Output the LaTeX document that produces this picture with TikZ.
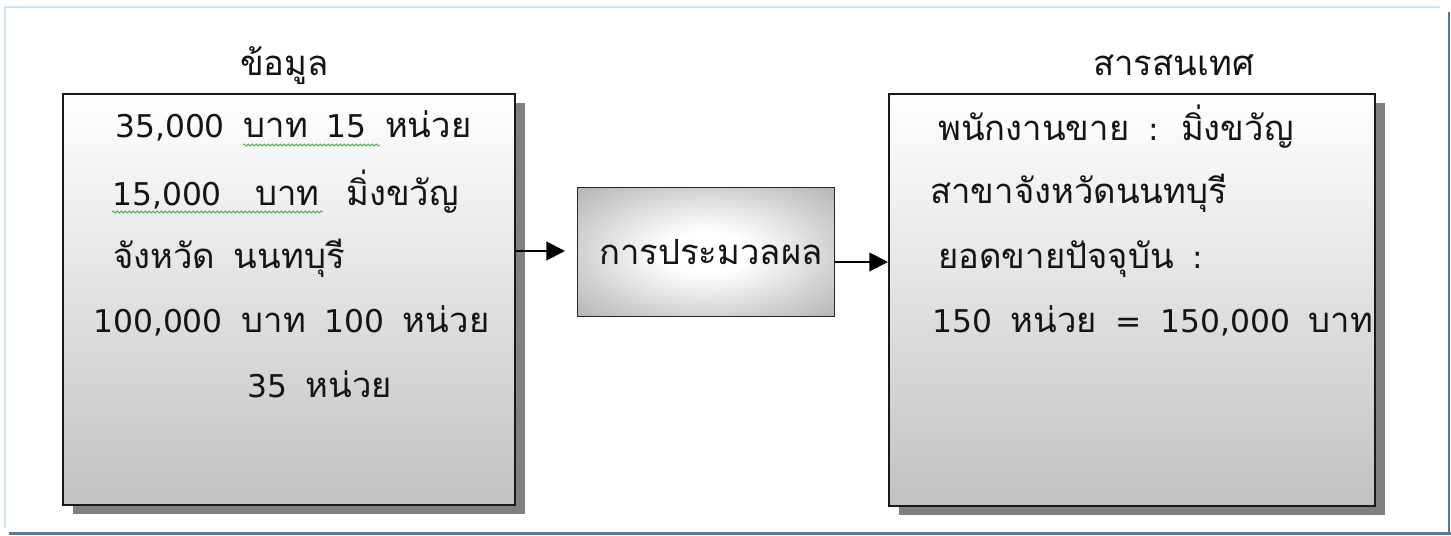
\documentclass[tikz,border=0pt]{standalone}
\usepackage{fontspec}
\newfontfamily\thaifont[Script=Thai]{Loma}
\newfontfamily\latfont{DejaVu Sans}
\usetikzlibrary{arrows.meta,decorations.pathmorphing,shadows}

% figures and punctuation are set in a wider sans than the Thai face
\newcommand\lat[1]{{\latfont\fontsize{23.5}{26}\selectfont #1}}

% soft glow for the processing box: white core fading to grey edges
\pgfdeclareradialshading{procglow}{\pgfpoint{0bp}{0bp}}{%
  color(0bp)=(white); color(8bp)=(white); color(40bp)=(black!34); color(50bp)=(black!34)}

\definecolor{frameblue}{HTML}{CFE2FB}
\definecolor{framedark}{HTML}{5D7894}
\definecolor{spellgreen}{HTML}{3CB043}

\begin{document}
\begin{tikzpicture}[x=0.75pt,y=-0.75pt,
  txt/.style={inner sep=0pt, anchor=base west,
    font={\thaifont\fontsize{26}{30}\selectfont\spaceskip=14pt\relax},
    text=black!92},
  panel/.style={draw=black!90, line width=1.6pt, top color=white,
    bottom color=black!24, anchor=north west,
    drop shadow={shadow xshift=7.5pt, shadow yshift=-6.75pt,
      fill=black!50, opacity=1}},
  procbox/.style={draw=black!85, line width=1.1pt, shading=procglow,
    anchor=north west, inner sep=0pt,
    font=\thaifont\fontsize{26}{30}\selectfont, text=black!92},
  flow/.style={line width=1.5pt, -{Triangle[length=14pt,width=14pt]}},
  spell/.style={spellgreen, line width=0.6pt, decorate,
    decoration={snake, amplitude=0.8pt, segment length=3pt}}
]
\useasboundingbox (0,0) rectangle (1451,535);

% page frame
\draw[frameblue, line width=2pt] (5,528) -- (5,7) -- (1440,7);
\draw[framedark, line width=2.25pt] (9,533.5) -- (1451,533.5);
\draw[framedark, line width=1.5pt] (1449,12) -- (1449,535);

% the two data panels
\node (lbox) [panel, minimum width=339pt, minimum height=308.25pt] at (62,93) {};
\node (rbox) [panel, minimum width=364.5pt, minimum height=309pt] at (888,93) {};

% processing box
\node (proc) [procbox, minimum width=192.75pt, minimum height=96.75pt] at (577,187)
  {\hspace*{7pt}การประมวลผล};

% titles
\node (tin)  [txt] at (240,75) {ข้อมูล};
\node (tout) [txt] at (1093,75) {สารสนเทศ};

% input data
\node (l1) [txt] at (115,137) {\lat{35,000} บาท \lat{15} หน่วย};
\node (l2) [txt] at (112,205) {\lat{15,000}\hspace{25pt}บาท\hspace{20pt}มิ่งขวัญ};
\node (l3) [txt] at (113,268) {จังหวัด นนทบุรี};
\node (l4) [txt] at (93,332)  {\lat{100,000} บาท \lat{100} หน่วย};
\node (l5) [txt] at (247,397) {\lat{35} หน่วย};

% spell-check marks under the first two lines
\draw[spell] (243,145) -- (380,145);
\draw[spell] (112,212) -- (323,212);

% output information
\node (r1) [txt] at (938,140) {พนักงานขาย \lat{:} มิ่งขวัญ};
\node (r2) [txt] at (930,203) {สาขาจังหวัดนนทบุรี};
\node (r3) [txt] at (938,268) {ยอดขายปัจจุบัน \lat{:}};
\node (r4) [txt] at (932,332) {\lat{150} หน่วย \lat{=} \lat{150,000} บาท};

% flow arrows
\coordinate (a1end) at (565,251);
\coordinate (a2lvl) at (0,262);
\draw[flow] (lbox.east |- a1end) -- (a1end);
\draw[flow] (proc.east |- a2lvl) -- (rbox.west |- a2lvl);
\end{tikzpicture}
\end{document}
